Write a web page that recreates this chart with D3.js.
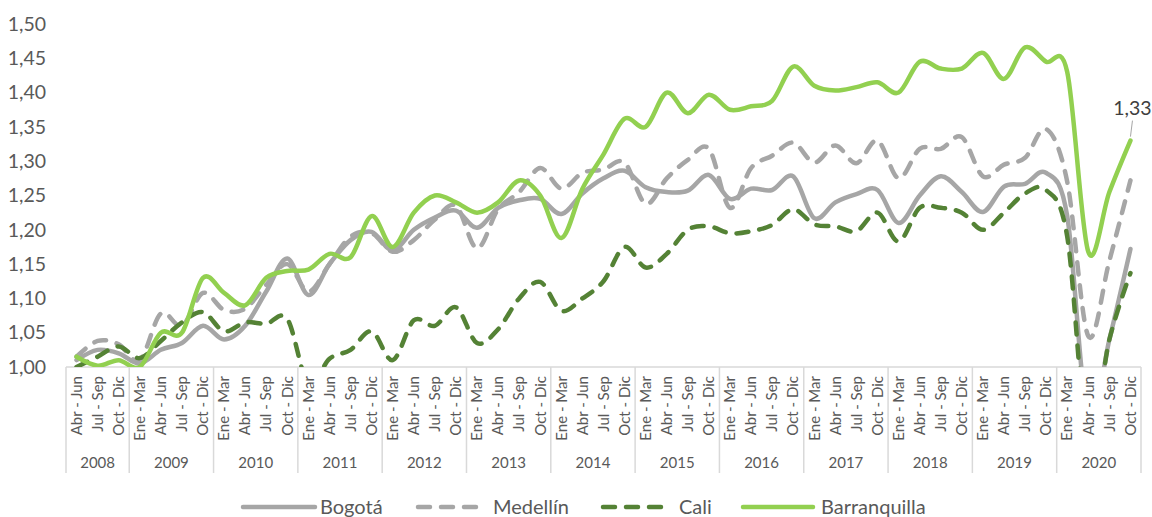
<!DOCTYPE html>
<html>
<head>
<meta charset="utf-8">
<script src="https://cdn.jsdelivr.net/npm/d3@7"></script>
<style>
  body { margin: 0; background: #fff; }
  text { font-family: "Lato", "Open Sans", sans-serif; fill: #595959; }
</style>
</head>
<body>
<div id="chart"></div>
<script>
// categories
const years = ["2008","2009","2010","2011","2012","2013","2014","2015","2016","2017","2018","2019","2020"];
const quarters = ["Ene - Mar","Abr - Jun","Jul - Sep","Oct - Dic"];
const firstQuarter2008 = 1; // series starts in Abr - Jun 2008

// series values
const bogota = [1.01,1.025,1.02,1.005,1.025,1.035,1.06,1.04,1.06,1.11,
  1.158,1.105,1.15,1.185,1.197,1.17,1.20,1.218,1.228,1.203,
  1.232,1.243,1.245,1.223,1.253,1.275,1.286,1.262,1.255,1.257,
  1.28,1.245,1.26,1.258,1.278,1.217,1.24,1.252,1.258,1.21,
  1.25,1.278,1.255,1.226,1.263,1.267,1.283,1.22,0.92,1.04,
  1.172];
const medellin = [1.015,1.038,1.033,1.01,1.078,1.06,1.108,1.083,1.085,1.12,
  1.15,1.11,1.15,1.19,1.195,1.168,1.185,1.215,1.235,1.173,
  1.23,1.255,1.29,1.26,1.283,1.288,1.298,1.238,1.275,1.302,
  1.318,1.232,1.29,1.308,1.327,1.298,1.323,1.297,1.33,1.275,
  1.318,1.318,1.335,1.278,1.295,1.305,1.347,1.27,1.045,1.155,
  1.272];
const cali = [1.00,1.015,1.03,1.013,1.038,1.065,1.08,1.052,1.065,1.063,
  1.07,0.975,1.012,1.025,1.052,1.01,1.068,1.06,1.087,1.035,
  1.055,1.10,1.124,1.082,1.10,1.125,1.175,1.145,1.165,1.20,
  1.205,1.195,1.198,1.207,1.23,1.208,1.205,1.198,1.225,1.183,
  1.232,1.232,1.225,1.2,1.225,1.253,1.258,1.19,0.89,1.04,
  1.137];
const barranquilla = [1.015,1.002,1.01,1.00,1.05,1.05,1.13,1.108,1.09,1.13,
  1.14,1.142,1.165,1.16,1.22,1.175,1.225,1.25,1.24,1.225,
  1.24,1.272,1.25,1.188,1.26,1.31,1.362,1.35,1.40,1.37,
  1.397,1.375,1.38,1.388,1.438,1.41,1.403,1.408,1.415,1.40,
  1.445,1.435,1.435,1.458,1.42,1.466,1.445,1.43,1.168,1.255,
  1.33];

// y tick labels
const yTicks = [1.00,1.05,1.10,1.15,1.20,1.25,1.30,1.35,1.40,1.45,1.50];

// build the period list (year + quarter)
const periods = [];
years.forEach((y, yi) => {
  quarters.forEach((q, qi) => {
    if (yi === 0 && qi < firstQuarter2008) return;
    periods.push({ year: y, quarter: q, key: y + "-" + qi });
  });
});

const series = [
  { name: "Bogotá", values: bogota, color: "#A6A6A6", dash: null },
  { name: "Medellín", values: medellin, color: "#A6A6A6", dash: "12,11" },
  { name: "Cali", values: cali, color: "#548235", dash: "12,11" },
  { name: "Barranquilla", values: barranquilla, color: "#92D050", dash: null }
];

const width = 1152, height = 517;
const margin = { top: 24, right: 11, bottom: 150, left: 66 };
const plotW = width - margin.left - margin.right;
const plotH = height - margin.top - margin.bottom;

const svg = d3.select("#chart")
  .append("svg")
    .attr("width", width)
    .attr("height", height);

const g = svg.append("g")
    .attr("transform", `translate(${margin.left},${margin.top})`);

const x = d3.scaleBand()
    .domain(periods.map(d => d.key))
    .range([0, plotW])
    .padding(0);

const y = d3.scaleLinear()
    .domain([1.0, 1.5])
    .range([plotH, 0]);

const fmt = v => d3.format(".2f")(v).replace(".", ",");

// y axis labels (no line, no gridlines)
const yAxis = g.append("g")
    .call(d3.axisLeft(y).tickValues(yTicks).tickFormat(fmt).tickSize(0).tickPadding(20));
yAxis.select(".domain").remove();
yAxis.selectAll("text")
    .style("font-size", "19.5px")
    .style("fill", "#595959");

// category axis: quarter labels rotated
const xAxis = g.append("g")
    .attr("transform", `translate(0,${plotH})`)
    .call(d3.axisBottom(x).tickFormat(k => periods.find(p => p.key === k).quarter).tickSize(0));
xAxis.select(".domain").remove();
xAxis.selectAll("text")
    .attr("transform", "rotate(-90)")
    .attr("text-anchor", "end")
    .attr("x", -9)
    .attr("y", 0)
    .attr("dy", "0.35em")
    .style("font-size", "15px")
    .style("fill", "#595959");

// axis line and year separators
const axisColor = "#D9D9D9";
g.append("line")
    .attr("x1", 0).attr("x2", plotW)
    .attr("y1", plotH).attr("y2", plotH)
    .attr("stroke", axisColor).attr("stroke-width", 1.5);

const yearGroups = d3.groups(periods, d => d.year);
const bounds = yearGroups.map(([yr, ps]) => x(ps[0].key));
bounds.push(plotW);
g.selectAll(".sep")
  .data(bounds)
  .enter()
  .append("line")
    .attr("class", "sep")
    .attr("x1", d => d).attr("x2", d => d)
    .attr("y1", plotH).attr("y2", plotH + 106)
    .attr("stroke", axisColor).attr("stroke-width", 1.5);

g.selectAll(".year")
  .data(yearGroups)
  .enter()
  .append("text")
    .attr("class", "year")
    .attr("text-anchor", "middle")
    .attr("x", ([yr, ps]) => (x(ps[0].key) + x(ps[ps.length - 1].key) + x.bandwidth()) / 2)
    .attr("y", plotH + 101)
    .style("font-size", "15px")
    .text(([yr]) => yr);

// clip to the plot area
svg.append("clipPath").attr("id", "plotclip")
  .append("rect")
    .attr("x", 0).attr("y", 0)
    .attr("width", plotW).attr("height", plotH);

const line = d3.line()
    .x((d, i) => x(periods[i].key) + x.bandwidth() / 2)
    .y(d => y(d))
    .curve(d3.curveCardinal.tension(0));

g.append("g")
    .attr("clip-path", "url(#plotclip)")
  .selectAll("path")
  .data(series)
  .enter()
  .append("path")
    .attr("d", d => line(d.values))
    .attr("fill", "none")
    .attr("stroke", d => d.color)
    .attr("stroke-width", 4.5)
    .attr("stroke-linecap", "round")
    .attr("stroke-linejoin", "round")
    .attr("stroke-dasharray", d => d.dash);

// data label for the last Barranquilla value
const lastI = barranquilla.length - 1;
const lx = x(periods[lastI].key) + x.bandwidth() / 2;
const ly = y(barranquilla[lastI]);
g.append("line")
    .attr("x1", lx).attr("x2", lx + 2)
    .attr("y1", ly - 4).attr("y2", ly - 20)
    .attr("stroke", "#A6A6A6").attr("stroke-width", 1);
g.append("text")
    .attr("x", lx + 2)
    .attr("y", ly - 26)
    .attr("text-anchor", "middle")
    .style("font-size", "19.5px")
    .style("fill", "#404040")
    .text(fmt(barranquilla[lastI]));

// legend
const legendItems = [
  { s: series[0], x1: 243, x2: 315, tx: 320 },
  { s: series[1], x1: 418, x2: 480, tx: 493 },
  { s: series[2], x1: 603, x2: 666, tx: 679 },
  { s: series[3], x1: 743, x2: 813, tx: 821 }
];
const legendY = 507;
const legend = svg.append("g");
legendItems.forEach(it => {
  legend.append("line")
      .attr("x1", it.x1).attr("x2", it.x2)
      .attr("y1", legendY).attr("y2", legendY)
      .attr("stroke", it.s.color)
      .attr("stroke-width", 4.5)
      .attr("stroke-linecap", "round")
      .attr("stroke-dasharray", it.s.dash);
  legend.append("text")
      .attr("x", it.tx)
      .attr("y", legendY)
      .attr("dy", "0.35em")
      .style("font-size", "20px")
      .text(it.s.name);
});
</script>
</body>
</html>
